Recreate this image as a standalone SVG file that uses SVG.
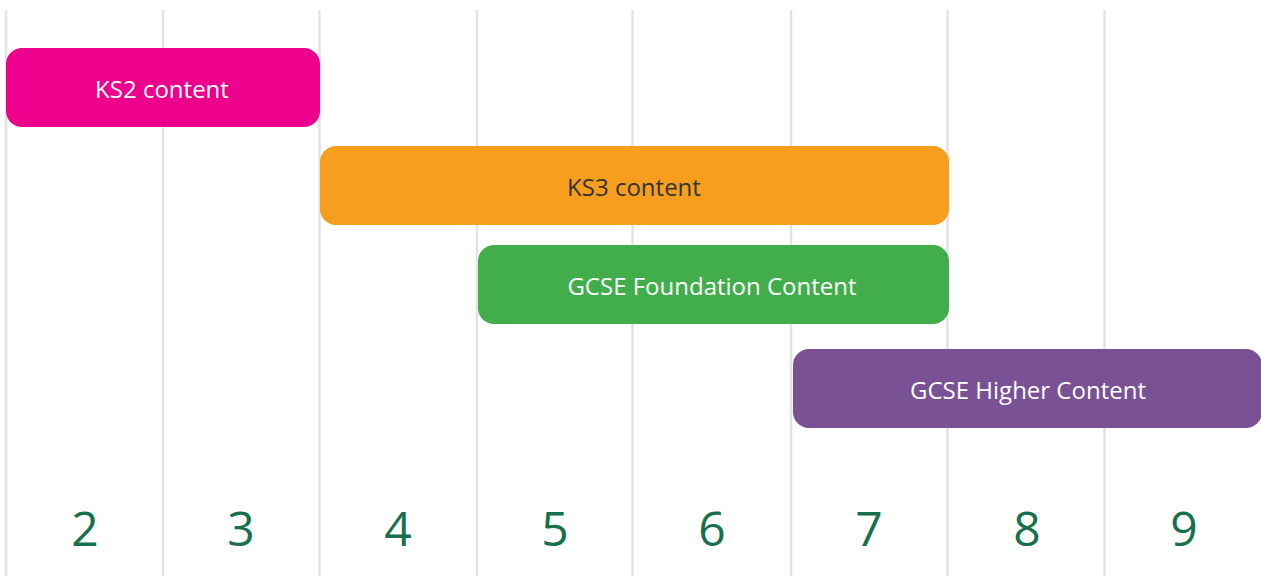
<svg xmlns="http://www.w3.org/2000/svg" width="1261" height="576" viewBox="0 0 1261 576">
<style>
.grid{stroke:#e3e3e3;stroke-width:2.5}
.lbl{font-family:"Open Sans","Liberation Sans",sans-serif;font-size:24px;text-anchor:middle}
.num{font-family:"Open Sans","Liberation Sans",sans-serif;font-size:48px;fill:#17704c;text-anchor:middle}
</style>
<rect width="1261" height="576" fill="#ffffff"/>
<g id="grid">
<line class="grid" x1="6" y1="10" x2="6" y2="576"/>
<line class="grid" x1="163" y1="10" x2="163" y2="576"/>
<line class="grid" x1="319.5" y1="10" x2="319.5" y2="576"/>
<line class="grid" x1="477" y1="10" x2="477" y2="576"/>
<line class="grid" x1="632.5" y1="10" x2="632.5" y2="576"/>
<line class="grid" x1="791" y1="10" x2="791" y2="576"/>
<line class="grid" x1="947.5" y1="10" x2="947.5" y2="576"/>
<line class="grid" x1="1104.5" y1="10" x2="1104.5" y2="576"/>
</g>
<g id="ks2">
<rect x="6" y="48" width="314" height="79" rx="16" fill="#ec008c"/>
<text class="lbl" x="162" y="98" fill="#ffffff">KS2 content</text>
</g>
<g id="ks3">
<rect x="320" y="146" width="629" height="79" rx="16" fill="#f79e1f"/>
<text class="lbl" x="634" y="196" fill="#333333">KS3 content</text>
</g>
<g id="gcse-foundation">
<rect x="478" y="245" width="471" height="79" rx="16" fill="#41ae4b"/>
<text class="lbl" x="712" y="295" fill="#ffffff">GCSE Foundation Content</text>
</g>
<g id="gcse-higher">
<rect x="793" y="349" width="469" height="79" rx="16" fill="#7a5195"/>
<text class="lbl" x="1028" y="399" fill="#ffffff">GCSE Higher Content</text>
</g>
<g id="connectors"></g>
<g id="grades">
<text class="num" x="85" y="546">2</text>
<text class="num" x="241" y="546">3</text>
<text class="num" x="398" y="546">4</text>
<text class="num" x="555" y="546">5</text>
<text class="num" x="712" y="546">6</text>
<text class="num" x="869" y="546">7</text>
<text class="num" x="1027" y="546">8</text>
<text class="num" x="1184" y="546">9</text>
</g>
</svg>
